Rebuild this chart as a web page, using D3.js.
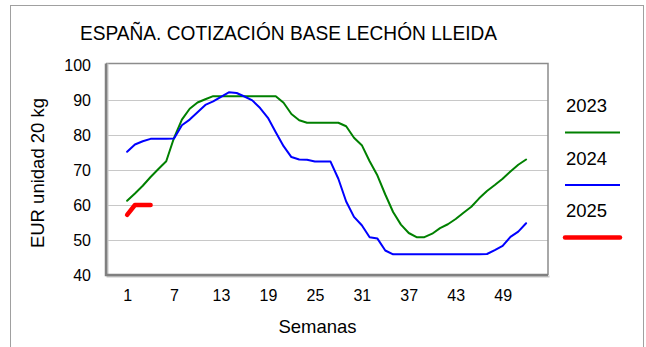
<!DOCTYPE html>
<html>
<head>
<meta charset="utf-8">
<script src="https://cdn.jsdelivr.net/npm/d3@7"></script>
<style>
  body { margin: 0; background: #fff; }
  svg { display: block; }
  text { font-family: "Liberation Sans", Arial, sans-serif; fill: #000; }
</style>
</head>
<body>
<svg id="chart" width="646" height="347"></svg>
<script>
// Weekly base piglet price, Lleida market (EUR per 20 kg unit)
const weeks = d3.range(1, 53);
const price2023 = [61.2, 63.3, 65.5, 68.0, 70.3, 72.5, 79.2, 84.4, 87.5, 89.3,
                   90.2, 91.1, 91.1, 91.1, 91.1, 91.1, 91.1, 91.1, 91.1, 91.1,
                   89.2, 86.0, 84.2, 83.5, 83.5, 83.5, 83.5, 83.5, 82.5, 79.2,
                   77.1, 72.5, 68.4, 63.0, 58.0, 54.4, 52.0, 50.8, 50.8, 51.8,
                   53.4, 54.5, 56.0, 57.8, 59.5, 61.9, 64.0, 65.7, 67.5, 69.6,
                   71.5, 73.0];
const price2024 = [75.2, 77.3, 78.2, 78.9, 78.9, 78.9, 79.0, 82.8, 84.4, 86.5,
                   88.6, 89.6, 90.9, 92.2, 92.0, 91.0, 89.9, 87.7, 84.9, 80.8,
                   76.8, 73.7, 73.0, 72.9, 72.4, 72.4, 72.4, 67.5, 61.0, 56.6,
                   54.2, 50.8, 50.4, 47.0, 45.9, 45.9, 45.9, 45.9, 45.9, 45.9,
                   45.9, 45.9, 45.9, 45.9, 45.9, 45.9, 46.0, 47.1, 48.3, 50.9,
                   52.4, 54.8];
const price2025 = [57.2, 60.0, 60.0, 60.0];

const seriesNames = ["2023", "2024", "2025"];
const seriesValues = [price2023, price2024, price2025];
const seriesColors = ["#008000", "#0000ff", "#ff0000"];
const seriesWidths = [2, 2, 4.5];

const xTickValues = [1, 7, 13, 19, 25, 31, 37, 43, 49];
const yTickValues = [40, 50, 60, 70, 80, 90, 100];
const gridValues = [50, 60, 70, 80, 90];

const titleText = "ESPAÑA. COTIZACIÓN BASE LECHÓN LLEIDA";
const xTitle = "Semanas";
const yTitle = "EUR unidad 20 kg";

const svg = d3.select("#chart");

// outer chart frame
svg.append("rect")
  .attr("x", 10.5).attr("y", 5.5).attr("width", 633).attr("height", 360)
  .attr("fill", "none").attr("stroke", "#a0a0a0").attr("stroke-width", 1);

const plot = { left: 106, right: 548, top: 63.5, bottom: 275 };

const x = d3.scaleLinear().domain([-1.7, 54.8]).range([plot.left, plot.right]);
const y = d3.scaleLinear().domain([40, 100]).range([plot.bottom, 65]);

// gridlines
svg.append("g").selectAll("line").data(gridValues).join("line")
  .attr("x1", plot.left).attr("x2", plot.right)
  .attr("y1", d => Math.round(y(d)) + 0.5).attr("y2", d => Math.round(y(d)) + 0.5)
  .attr("stroke", "#c8c8c8").attr("stroke-width", 1);

// plot area border (top / right)
svg.append("path")
  .attr("d", `M${plot.left},${plot.top} H${plot.right} V${plot.bottom}`)
  .attr("fill", "none").attr("stroke", "#8c8c8c").attr("stroke-width", 1.5);

// y axis
const yAxis = d3.axisLeft(y).tickValues(yTickValues).tickSize(0).tickPadding(15);
const gy = svg.append("g").attr("transform", `translate(${plot.left},0)`).call(yAxis);
gy.select(".domain").remove();
gy.selectAll("text").attr("font-size", 16).attr("fill", "#000")
  .style("font-family", '"Liberation Sans", Arial, sans-serif');

// x axis
const xAxis = d3.axisBottom(x).tickValues(xTickValues).tickSize(0).tickPadding(15);
const gx = svg.append("g").attr("transform", `translate(0,${plot.bottom})`).call(xAxis);
gx.select(".domain").remove();
gx.selectAll("text").attr("font-size", 16).attr("fill", "#000")
  .style("font-family", '"Liberation Sans", Arial, sans-serif');

// axis lines (left and bottom), slightly shadowed
svg.append("path")
  .attr("d", `M${plot.left + 1.5},${plot.top} V${plot.bottom + 1.5} H${plot.right + 1.5}`)
  .attr("fill", "none").attr("stroke", "#c8c8c8").attr("stroke-width", 2);
svg.append("path")
  .attr("d", `M${plot.left},${plot.top} V${plot.bottom} H${plot.right}`)
  .attr("fill", "none").attr("stroke", "#808080").attr("stroke-width", 2.5);

// series lines
const line = d3.line().x((d, i) => x(weeks[i])).y(d => y(d));
svg.append("g").selectAll("path").data(seriesValues).join("path")
  .attr("d", d => line(d))
  .attr("fill", "none")
  .attr("stroke", (d, i) => seriesColors[i])
  .attr("stroke-width", (d, i) => seriesWidths[i])
  .attr("stroke-linejoin", "round")
  .attr("stroke-linecap", "round");

// title (slightly condensed face)
svg.append("text").attr("x", 80).attr("y", 40)
  .attr("font-size", 21)
  .attr("textLength", 417).attr("lengthAdjust", "spacingAndGlyphs")
  .text(titleText);

// axis titles
svg.append("text").attr("x", 317.5).attr("y", 333)
  .attr("text-anchor", "middle").attr("font-size", 18.5).text(xTitle);
svg.append("text")
  .attr("transform", `translate(44,173) rotate(-90)`)
  .attr("text-anchor", "middle").attr("font-size", 18.5).text(yTitle);

// legend
const legend = svg.append("g").selectAll("g").data(seriesNames).join("g")
  .attr("transform", (d, i) => `translate(566,${112 + i * 52.5})`);
legend.append("text").attr("x", 0).attr("y", 0).attr("font-size", 18.5).text(d => d);
legend.append("line")
  .attr("x1", -1).attr("x2", 54).attr("y1", 20.5).attr("y2", 20.5)
  .attr("stroke", (d, i) => seriesColors[i])
  .attr("stroke-width", (d, i) => seriesWidths[i] === 2 ? 2 : 4.5)
  .attr("stroke-linecap", (d, i) => i === 2 ? "round" : "butt");
</script>
</body>
</html>
